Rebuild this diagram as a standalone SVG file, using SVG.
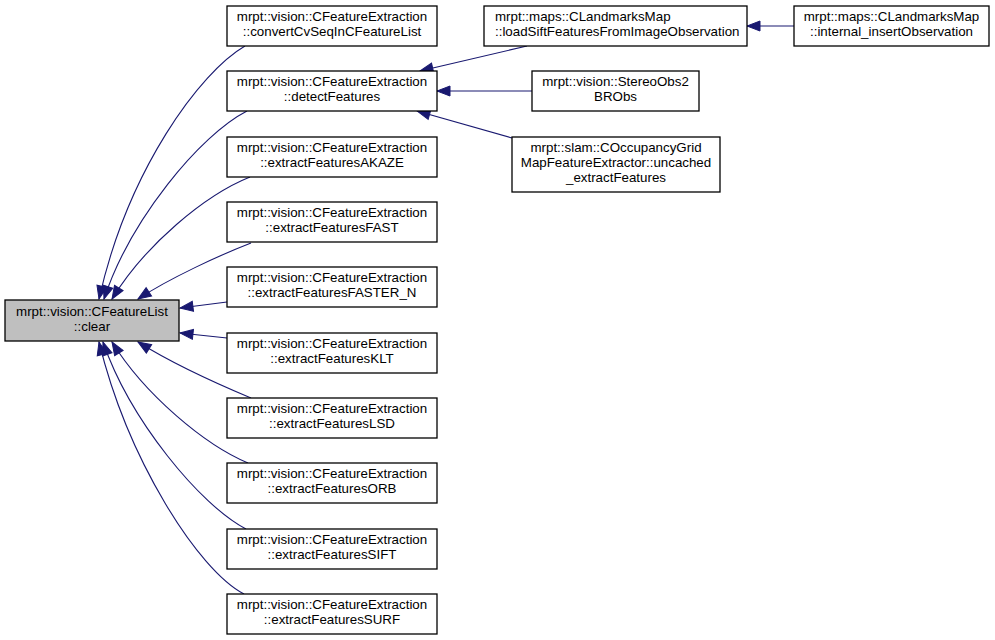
<svg xmlns="http://www.w3.org/2000/svg" width="995" height="640" viewBox="0 0 995 640">
<style>
.n rect{fill:#fff;stroke:#000;stroke-width:1.3}
#clear rect{fill:#bfbfbf}
text{font-family:"Liberation Sans",Arial,sans-serif;font-size:13.33px;fill:#000}
.c{text-anchor:middle}
.e path{fill:none;stroke:#191970;stroke-width:1.1;marker-end:url(#ah)}
</style>
<defs>
<marker id="ah" markerUnits="userSpaceOnUse" markerWidth="15" markerHeight="12" refX="13" refY="5" orient="auto" overflow="visible">
<path d="M0,0 L13,5 L0,10 z" fill="#191970" stroke="#191970" stroke-width="1"/>
</marker>
</defs>
<rect width="995" height="640" fill="#fff"/>
<g class="e" id="edges">
<path d="M245,46 C200,72 128,170 99,299"/>
<path d="M247,111 C200,135 130,220 104,299"/>
<path d="M250,177 C205,195 145,245 112,299"/>
<path d="M251,243 C220,255 170,278 138,299"/>
<path d="M227,302 L180,308"/>
<path d="M227,338 L180,333"/>
<path d="M251,398 C220,385 170,362 138,342"/>
<path d="M248,463 C205,445 145,395 112,342"/>
<path d="M246,529 C200,505 130,420 103,342"/>
<path d="M244,594 C198,570 128,460 99,342"/>
<path d="M527,46 L420,71"/>
<path d="M532,91 L437,91"/>
<path d="M512,138 L417,111"/>
<path d="M794,26 L747,26"/>
</g>
<g class="n" id="clear"><rect x="5" y="300" width="174" height="41"/><text class="c" x="92" y="316">mrpt::vision::CFeatureList</text><text class="c" x="92" y="331">::clear</text></g>
<g class="n" id="convertCvSeq"><rect x="227" y="6" width="210" height="40"/><text class="c" x="332" y="21">mrpt::vision::CFeatureExtraction</text><text class="c" x="332" y="36">::convertCvSeqInCFeatureList</text></g>
<g class="n" id="detectFeatures"><rect x="227" y="71" width="210" height="40"/><text class="c" x="332" y="86">mrpt::vision::CFeatureExtraction</text><text class="c" x="332" y="101">::detectFeatures</text></g>
<g class="n" id="akaze"><rect x="227" y="137" width="210" height="40"/><text class="c" x="332" y="152">mrpt::vision::CFeatureExtraction</text><text class="c" x="332" y="167">::extractFeaturesAKAZE</text></g>
<g class="n" id="fast"><rect x="227" y="202" width="210" height="40"/><text class="c" x="332" y="217">mrpt::vision::CFeatureExtraction</text><text class="c" x="332" y="232">::extractFeaturesFAST</text></g>
<g class="n" id="fastern"><rect x="227" y="267" width="210" height="40"/><text class="c" x="332" y="282">mrpt::vision::CFeatureExtraction</text><text class="c" x="332" y="297">::extractFeaturesFASTER_N</text></g>
<g class="n" id="klt"><rect x="227" y="333" width="210" height="40"/><text class="c" x="332" y="348">mrpt::vision::CFeatureExtraction</text><text class="c" x="332" y="363">::extractFeaturesKLT</text></g>
<g class="n" id="lsd"><rect x="227" y="398" width="210" height="40"/><text class="c" x="332" y="413">mrpt::vision::CFeatureExtraction</text><text class="c" x="332" y="428">::extractFeaturesLSD</text></g>
<g class="n" id="orb"><rect x="227" y="463" width="210" height="40"/><text class="c" x="332" y="478">mrpt::vision::CFeatureExtraction</text><text class="c" x="332" y="493">::extractFeaturesORB</text></g>
<g class="n" id="sift"><rect x="227" y="529" width="210" height="40"/><text class="c" x="332" y="544">mrpt::vision::CFeatureExtraction</text><text class="c" x="332" y="559">::extractFeaturesSIFT</text></g>
<g class="n" id="surf"><rect x="227" y="594" width="210" height="40"/><text class="c" x="332" y="609">mrpt::vision::CFeatureExtraction</text><text class="c" x="332" y="624">::extractFeaturesSURF</text></g>
<g class="n" id="loadSift"><rect x="484" y="6" width="263" height="40"/><text x="495" y="21">mrpt::maps::CLandmarksMap</text><text x="495" y="36">::loadSiftFeaturesFromImageObservation</text></g>
<g class="n" id="internal"><rect x="794" y="6" width="195" height="40"/><text class="c" x="891.5" y="21">mrpt::maps::CLandmarksMap</text><text class="c" x="891.5" y="36">::internal_insertObservation</text></g>
<g class="n" id="stereo"><rect x="532" y="71" width="167" height="40"/><text class="c" x="615.5" y="86">mrpt::vision::StereoObs2</text><text class="c" x="615.5" y="101">BRObs</text></g>
<g class="n" id="uncached"><rect x="512" y="137" width="208" height="55"/><text class="c" x="616" y="152">mrpt::slam::COccupancyGrid</text><text class="c" x="616" y="167">MapFeatureExtractor::uncached</text><text class="c" x="616" y="182">_extractFeatures</text></g>
</svg>
